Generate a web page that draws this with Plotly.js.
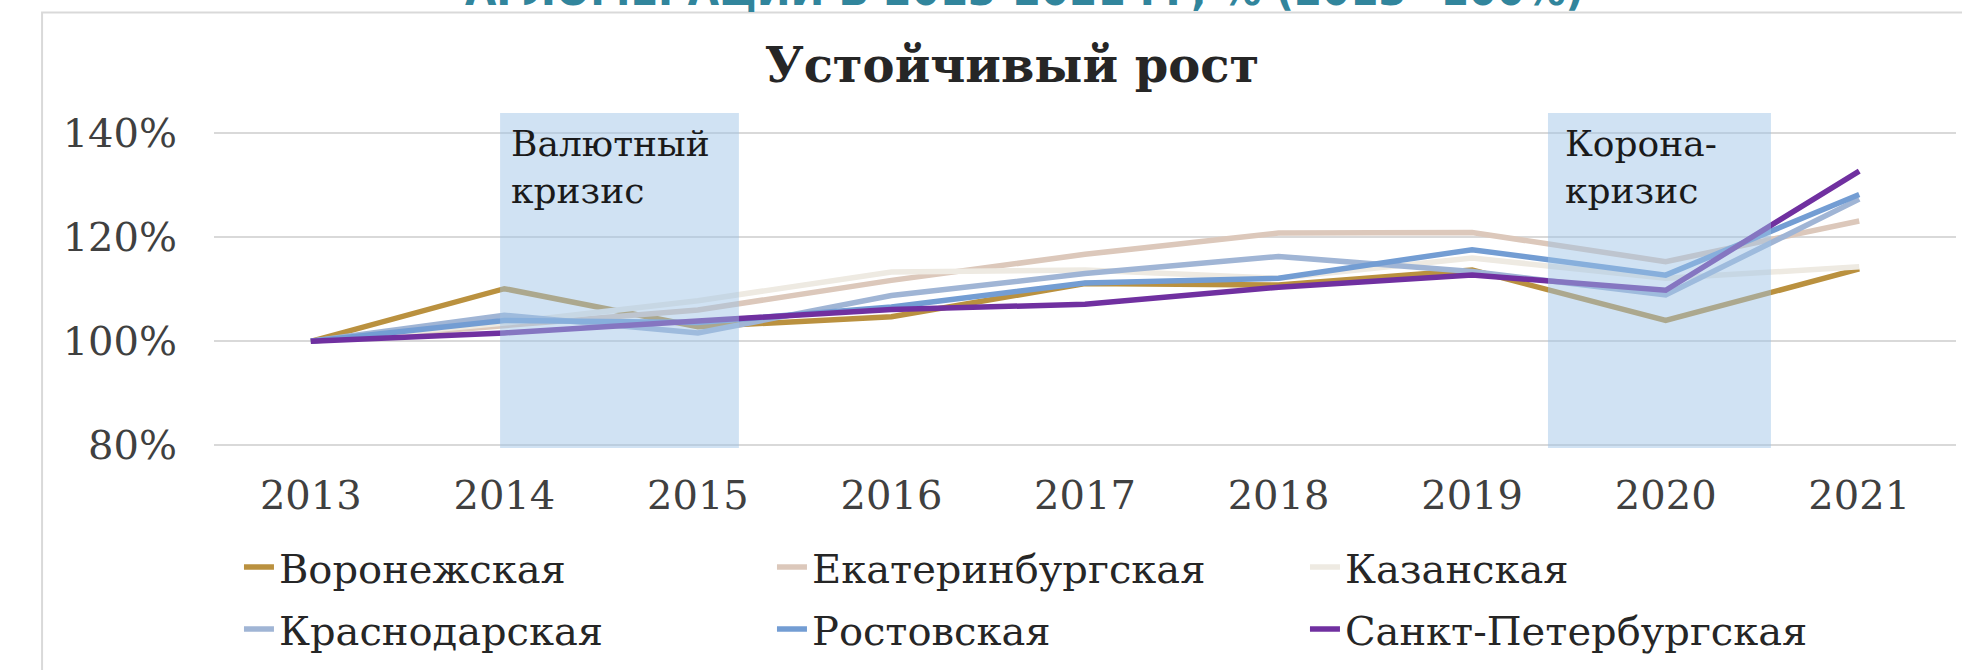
<!DOCTYPE html>
<html>
<head>
<meta charset="utf-8">
<script src="https://cdn.plot.ly/plotly-3.0.1.min.js"></script>
<style>
html,body{margin:0;padding:0;background:#fff;}
#chart{width:1962px;height:670px;}
</style>
</head>
<body>
<div id="chart"></div>
<script>
// ---- data ----
const years = [2013, 2014, 2015, 2016, 2017, 2018, 2019, 2020, 2021];
const yearLabels = ['2013','2014','2015','2016','2017','2018','2019','2020','2021'];
const voronezh     = [100, 110.1, 102.8, 104.7, 111.1, 110.8, 113.7, 104.0, 113.9];
const ekaterinburg = [100, 103.0, 106.0, 111.7, 116.7, 120.8, 120.9, 115.3, 123.1];
const kazan        = [100, 103.5, 107.8, 113.3, 113.7, 112.1, 116.0, 112.1, 114.3];
const krasnodar    = [100, 105.0, 101.6, 108.8, 113.0, 116.3, 113.4, 108.9, 127.3];
const rostov       = [100, 104.0, 103.6, 106.6, 111.2, 112.1, 117.6, 112.7, 128.2];
const spb          = [100, 101.6, 103.9, 106.1, 107.1, 110.4, 112.75, 109.8, 132.7];
const seriesNames = ['Воронежская','Екатеринбургская','Казанская','Краснодарская','Ростовская','Санкт-Петербургская'];
const yTickVals = [80, 100, 120, 140];
const yTickText = ['80%', '100%', '120%', '140%'];
const crisisLine1 = ['Валютный', 'Корона-'];
const crisisLine2 = ['кризис', 'кризис'];
const crisisStart = [2013.978, 2019.392];
const crisisEnd   = [2015.212, 2020.544];
const chartTitle = 'Устойчивый рост';
const outerTitle = 'АГЛОМЕРАЦИЙ В 2013-2021 ГГ, % (2013=100%)';

// ---- styles ----
const colors = ['#BA913F', '#DCC8BB', '#EEEAE2', '#A0B5D5', '#739DD3', '#7030A0'];
const serif = 'DejaVu Serif, Liberation Serif, serif';
const allSeries = [voronezh, ekaterinburg, kazan, krasnodar, rostov, spb];

const traces = allSeries.map((vals, i) => ({
  type: 'scatter', mode: 'lines',
  x: years, y: vals, name: seriesNames[i],
  line: {color: colors[i], width: 5.5},
  legend: i < 3 ? 'legend' : 'legend2',
  hoverinfo: 'x+y+name'
}));

const shapes = [
  {type:'rect', xref:'paper', yref:'paper', x0:-0.0987, x1:1.2, y0:-1, y1:1.3,
   line:{color:'#D9D9D9', width:2}, fillcolor:'rgba(0,0,0,0)', layer:'below'}
];
crisisStart.forEach((s, i) => {
  shapes.push({type:'rect', xref:'x', yref:'y domain', x0:s, x1:crisisEnd[i], y0:0, y1:1,
    fillcolor:'rgba(157,195,230,0.48)', line:{width:0}, layer:'above'});
});

const annotations = [];
crisisStart.forEach((s, i) => {
  const xs = i === 0 ? 9 : 15;
  annotations.push({
    text: crisisLine1[i], xref:'x', yref:'paper', x: s, xshift: xs,
    y: 1, yshift: -7.5, xanchor:'left', yanchor:'top', align:'left', showarrow:false,
    font:{family: serif, size:36, color:'#1A1A1A'}
  });
  annotations.push({
    text: crisisLine2[i], xref:'x', yref:'paper', x: s, xshift: xs,
    y: 1, yshift: -55, xanchor:'left', yanchor:'top', align:'left', showarrow:false,
    font:{family: serif, size:36, color:'#1A1A1A'}
  });
});
annotations.push({
  text: outerTitle, xref:'paper', yref:'paper', x:0.465, y:1.37, xanchor:'center', yanchor:'middle',
  showarrow:false, font:{family:'Liberation Sans Narrow, DejaVu Sans Condensed, DejaVu Sans, sans-serif', size:45, color:'#31859C', weight:700}
});

const legendCommon = {
  orientation:'h', xref:'container', yref:'container', xanchor:'left', yanchor:'middle',
  entrywidth:488, entrywidthmode:'pixels', bgcolor:'rgba(0,0,0,0)',
  font:{family: serif, size:40, color:'#262626'}
};

const layout = {
  width:1962, height:670,
  margin:{l:214, r:6, t:113, b:222},
  paper_bgcolor:'#FFFFFF', plot_bgcolor:'rgba(0,0,0,0)',
  showlegend:true,
  title:{text: chartTitle, xref:'container', yref:'container', x:0.5158, y:0.903,
         xanchor:'center', yanchor:'middle', font:{family: serif, size:48, color:'#262626', weight:700}},
  xaxis:{range:[2012.5, 2021.5], tickvals: years, ticktext: yearLabels, showgrid:false, zeroline:false,
         showline:false, ticks:'', ticklabelstandoff:20, tickfont:{family: serif, size:40, color:'#404040'}, fixedrange:true},
  yaxis:{range:[79.5, 143.85], tickvals: yTickVals, ticktext: yTickText, showgrid:true, gridcolor:'#D9D9D9', gridwidth:2,
         zeroline:false, showline:false, ticks:'', ticklabelstandoff:36, tickfont:{family: serif, size:40, color:'#404040'}, fixedrange:true},
  legend: Object.assign({x:0.1218, y:0.1537}, legendCommon),
  legend2: Object.assign({x:0.1218, y:0.0612}, legendCommon),
  shapes: shapes,
  annotations: annotations
};

Plotly.newPlot('chart', traces, layout, {displayModeBar:false, staticPlot:true});
</script>
</body>
</html>
